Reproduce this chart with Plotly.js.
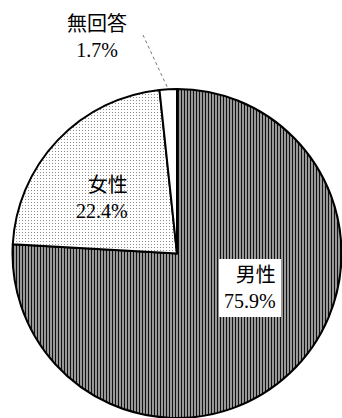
<!DOCTYPE html>
<html>
<head>
<meta charset="utf-8">
<script src="https://cdn.plot.ly/plotly-3.0.1.min.js"></script>
<style>
  html, body { margin: 0; padding: 0; background: #fff; overflow: hidden; }
  #chart { width: 342px; height: 418px; }
</style>
</head>
<body>
<div id="chart"></div>
<script>
// 回答者の性別構成
const labels = ['男性', '女性', '無回答'];
const shares = [75.9, 22.4, 1.7];

const W = 342, H = 418;
const px = x => x / W;
const py = y => 1 - y / H;

const FONT = '"Liberation Serif", "Noto Sans CJK JP", serif';
const fmt = (i) => labels[i] + '<br>' + shares[i].toFixed(1) + '%';

// pie geometry (pixels) used for the leader line end point
const cx = 177, cy = 253.5, r = 164.5;
const total = shares.reduce((a, b) => a + b, 0);
// middle of the last slice (clockwise from 12 o'clock)
const startLast = (total - shares[2]) / total * 360;
const midLast = (startLast + shares[2] / total * 180) * Math.PI / 180;
const tipX = cx + r * Math.sin(midLast);
const tipY = cy - r * Math.cos(midLast);

const trace = {
  type: 'pie',
  labels: labels,
  values: shares,
  sort: false,
  direction: 'clockwise',
  rotation: 0,
  textinfo: 'none',
  hoverinfo: 'label+percent',
  domain: { x: [px(cx - 165), 1], y: [0, py(89)] },
  marker: {
    colors: ['#7a7a7a', '#f2f2f2', '#ffffff'],
    line: { color: '#000', width: 2 },
    pattern: {
      shape: ['|', '.', ''],
      fgcolor: ['#111111', '#333333', '#ffffff'],
      bgcolor: ['#c4c4c4', '#ffffff', '#ffffff'],
      size: [3, 3, 8],
      solidity: [0.5, 0.08, 0.1]
    }
  }
};

const layout = {
  width: W, height: H,
  margin: { l: 0, r: 0, t: 0, b: 0 },
  paper_bgcolor: '#fff',
  showlegend: false,
  font: { family: FONT, size: 20, color: '#000' },
  shapes: [{
    type: 'line', xref: 'paper', yref: 'paper',
    x0: px(143), y0: py(35), x1: px(tipX), y1: py(tipY),
    line: { color: '#777', width: 1, dash: 'dot' }
  }],
  annotations: [
    { text: fmt(2), xref: 'paper', yref: 'paper', x: px(97), y: py(37),
      xanchor: 'center', yanchor: 'middle', align: 'center', showarrow: false },
    { text: fmt(1), xref: 'paper', yref: 'paper', x: px(130), y: py(198),
      xanchor: 'right', yanchor: 'middle', align: 'right', showarrow: false },
    { text: fmt(0), xref: 'paper', yref: 'paper', x: px(281), y: py(288),
      xanchor: 'right', yanchor: 'middle', align: 'right', showarrow: false,
      bgcolor: '#fff', borderpad: 5, borderwidth: 0 }
  ]
};

Plotly.newPlot('chart', [trace], layout, { staticPlot: true, displayModeBar: false });
</script>
</body>
</html>
